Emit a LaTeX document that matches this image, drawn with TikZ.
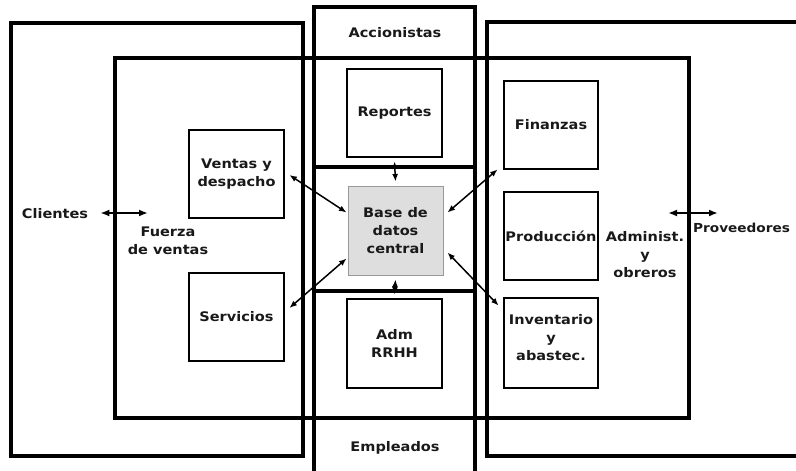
\documentclass[tikz,border=0pt]{standalone}
\usepackage{fontspec}
\setmainfont{DejaVu Sans}[FakeStretch=1.1]
\usetikzlibrary{arrows.meta}
\begin{document}
\begin{tikzpicture}[x=1pt,y=-1pt,
  lbl/.style={font=\bfseries\fontsize{13.2}{18}\selectfont, align=center, inner sep=0pt, text=black!90},
  frame/.style={draw, line width=3.2pt, inner sep=0pt},
  sq/.style={draw, line width=2.8pt, lbl, minimum width=94pt, minimum height=88pt},
  db/.style={draw=black!40, fill=black!13, line width=1pt, lbl, minimum width=95pt, minimum height=89pt},
  dbl/.style={{Latex[length=7.5pt,width=6pt]}-{Latex[length=7.5pt,width=6pt]}, line width=1.5pt},
  dblw/.style={{Latex[length=9pt,width=7pt]}-{Latex[length=9pt,width=7pt]}, line width=2pt},
]
\useasboundingbox (0,0) rectangle (796,471);
\clip (0,0) rectangle (796,471);
% containers
\node[frame, minimum width=292pt, minimum height=433pt] (leftframe) at (157,239.5) {};
\node[frame, minimum width=323pt, minimum height=434pt] (rightframe) at (648.5,239) {};
\node[frame, minimum width=161pt, minimum height=483pt] (colframe) at (394.5,248.5) {};
\draw[line width=3.2pt] (colframe.west |- 0,167) -- (colframe.east |- 0,167);
\draw[line width=3.2pt] (colframe.west |- 0,291) -- (colframe.east |- 0,291);
\node[frame, minimum width=574pt, minimum height=360pt] (innerframe) at (402,238) {};
% labels
\node[lbl] (acc) at (395,33) {Accionistas};
\node[lbl] (emp) at (395,448) {Empleados};
\node[lbl] (cli) at (55,214) {Clientes};
\node[lbl] (fuerza) at (168,241) {Fuerza\\de ventas};
\node[lbl] (adm) at (645,255) {Administ.\\y\\obreros};
\node[lbl, anchor=west, font=\bfseries\fontsize{12.4}{18}\selectfont] (prov) at (693,228) {Proveedores};
% boxes
\node[sq, minimum width=95pt] (rep) at (394.5,113) {Reportes};
\node[sq, minimum width=95pt, minimum height=89pt] (rrhh) at (394.5,343.5) {Adm\\RRHH};
\node[sq, minimum width=95pt] (ven) at (236.5,174) {Ventas y\\despacho};
\node[sq, minimum width=95pt] (ser) at (236.5,317) {Servicios};
\node[sq] (fin) at (551,125) {Finanzas};
\node[sq] (pro) at (551,236) {Producción};
\node[sq, minimum height=90pt, text depth=12pt] (inv) at (551,343) {Inventario\\y\\abastec.};
\node[db] (base) at (395.5,230.5) {Base de\\datos\\central};
% connectors
\draw[dbl] ([xshift=4pt,yshift=-1pt]ven.east) -- ([xshift=-1pt,yshift=18pt]base.west);
\draw[dbl] ([xshift=4pt,yshift=9pt]ser.east) -- ([xshift=-1pt,yshift=-28pt]base.west);
\draw[dbl] ([xshift=-5pt,yshift=1pt]fin.south west) -- ([xshift=4pt,yshift=18pt]base.east);
\draw[dbl] ([xshift=4pt,yshift=-22pt]base.east) -- ([xshift=-4pt,yshift=-9pt]inv.north west);
\draw[dbl] ([yshift=-3pt]rep.south) -- ([yshift=4pt]base.north);
\draw[dbl] ([yshift=-4pt]base.south) -- ([yshift=3pt]rrhh.north);
\coordinate (cliend) at (148,213);
\coordinate (pa) at (668,213);
\coordinate (pb) at (718,213);
\draw[dblw] ([xshift=12pt,yshift=1pt]cli.east) -- (cliend);
\draw[dblw] (pa) -- (pb);
\end{tikzpicture}
\end{document}
